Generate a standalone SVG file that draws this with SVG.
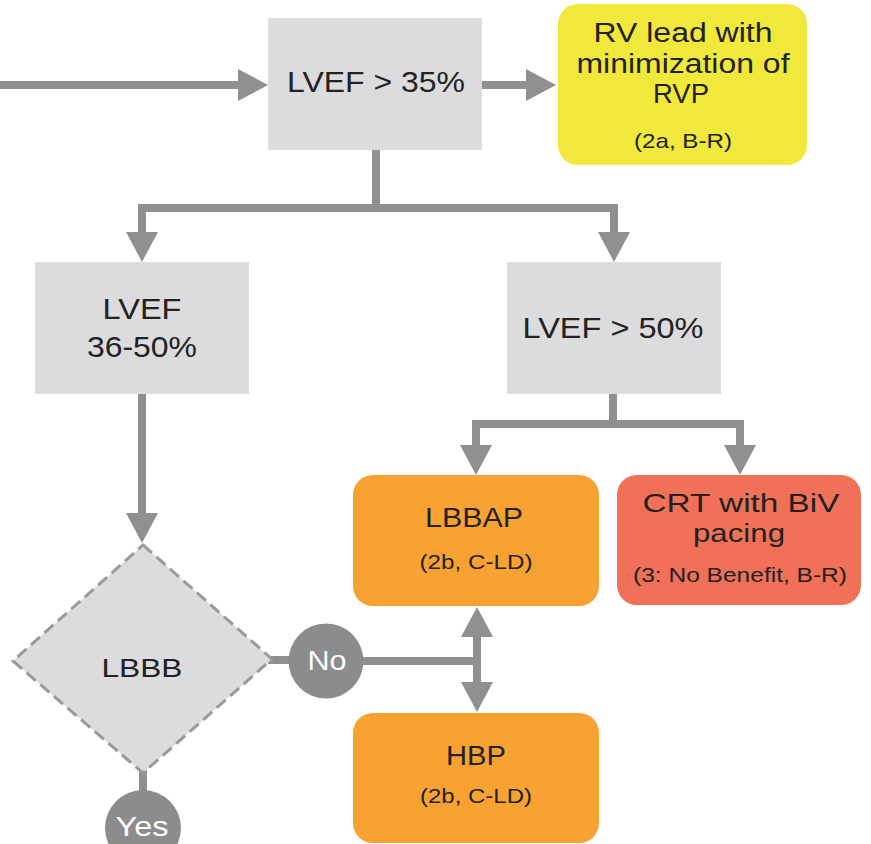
<svg xmlns="http://www.w3.org/2000/svg" width="871" height="844" viewBox="0 0 871 844">
  <style>
    .t { font-family: "Liberation Sans", Arial, sans-serif; fill: #222222; text-anchor: middle; }
    .w { font-family: "Liberation Sans", Arial, sans-serif; fill: #ffffff; text-anchor: middle; }
    .gray { fill: #dcdcde; }
    .orange { fill: #f7a233; }
    .conn { fill: none; stroke: #909093; stroke-width: 8; stroke-linejoin: miter; }
    .badge { fill: #8c8c8f; }
  </style>
  <defs>
    <marker id="arrow" viewBox="0 0 30 32" refX="4" refY="16" markerWidth="30" markerHeight="32" markerUnits="userSpaceOnUse" orient="auto">
      <path d="M0,0 L30,16 L0,32 z" fill="#909093"/>
    </marker>
  </defs>
  <rect width="871" height="844" fill="#ffffff"/>

  <g id="connectors">
    <path class="conn" d="M0,85 H242" marker-end="url(#arrow)"/>
    <path class="conn" d="M482,85 H530" marker-end="url(#arrow)"/>
    <path class="conn" d="M376,150 V208 H142 V236" marker-end="url(#arrow)"/>
    <path class="conn" d="M376,208 H614 V236" marker-end="url(#arrow)"/>
    <path class="conn" d="M142,394 V517" marker-end="url(#arrow)"/>
    <path class="conn" d="M613,394 V424 H476 V449" marker-end="url(#arrow)"/>
    <path class="conn" d="M613,424 H740 V449" marker-end="url(#arrow)"/>
    <path class="conn" d="M268,660 H300"/>
    <path class="conn" d="M350,661 H481"/>
    <path class="conn" d="M477,661 V633" marker-end="url(#arrow)"/>
    <path class="conn" d="M477,661 V686" marker-end="url(#arrow)"/>
    <path class="conn" d="M143,770 V800"/>
  </g>

  <g id="lvef35">
    <rect class="gray" x="268" y="18" width="214" height="132"/>
    <text class="t" x="376" y="92" font-size="30" textLength="178" lengthAdjust="spacingAndGlyphs">LVEF &gt; 35%</text>
  </g>

  <g id="rvlead">
    <rect x="558" y="4" width="249" height="161" rx="20" fill="#f1e83c"/>
    <text class="t" x="683" y="42" font-size="27" textLength="179" lengthAdjust="spacingAndGlyphs">RV lead with</text>
    <text class="t" x="683" y="73" font-size="27" textLength="213" lengthAdjust="spacingAndGlyphs">minimization of</text>
    <text class="t" x="681" y="103" font-size="27" textLength="56" lengthAdjust="spacingAndGlyphs">RVP</text>
    <text class="t" x="683" y="148" font-size="21" textLength="98" lengthAdjust="spacingAndGlyphs">(2a, B-R)</text>
  </g>

  <g id="lvef36">
    <rect class="gray" x="35" y="262" width="214" height="132"/>
    <text class="t" x="142" y="319" font-size="30" textLength="79" lengthAdjust="spacingAndGlyphs">LVEF</text>
    <text class="t" x="142" y="357" font-size="30" textLength="110" lengthAdjust="spacingAndGlyphs">36-50%</text>
  </g>

  <g id="lvef50">
    <rect class="gray" x="507" y="262" width="214" height="132"/>
    <text class="t" x="613" y="338" font-size="30" textLength="181" lengthAdjust="spacingAndGlyphs">LVEF &gt; 50%</text>
  </g>

  <g id="lbbap">
    <rect class="orange" x="353" y="475" width="246" height="131" rx="20"/>
    <text class="t" x="474" y="527" font-size="27" textLength="98" lengthAdjust="spacingAndGlyphs">LBBAP</text>
    <text class="t" x="476" y="569" font-size="21" textLength="113" lengthAdjust="spacingAndGlyphs">(2b, C-LD)</text>
  </g>

  <g id="crt">
    <rect x="617" y="475" width="244" height="130" rx="20" fill="#f07158"/>
    <text class="t" x="741" y="512" font-size="25" textLength="197" lengthAdjust="spacingAndGlyphs">CRT with BiV</text>
    <text class="t" x="739" y="542" font-size="26" textLength="92" lengthAdjust="spacingAndGlyphs">pacing</text>
    <text class="t" x="740" y="582" font-size="21" textLength="214" lengthAdjust="spacingAndGlyphs">(3: No Benefit, B-R)</text>
  </g>

  <g id="lbbb">
    <polygon points="143,545 272,659 143,773 13,661" fill="#dcdcde" stroke="#9a9a9c" stroke-width="3" stroke-dasharray="12 6"/>
    <text class="t" x="142" y="677" font-size="26" textLength="81" lengthAdjust="spacingAndGlyphs">LBBB</text>
  </g>

  <g id="no">
    <circle class="badge" cx="326" cy="661" r="37.5"/>
    <text class="w" x="327" y="670" font-size="28" textLength="39" lengthAdjust="spacingAndGlyphs">No</text>
  </g>

  <g id="hbp">
    <rect class="orange" x="353" y="713" width="246" height="130" rx="20"/>
    <text class="t" x="476" y="765" font-size="27" textLength="60" lengthAdjust="spacingAndGlyphs">HBP</text>
    <text class="t" x="476" y="803" font-size="21" textLength="112" lengthAdjust="spacingAndGlyphs">(2b, C-LD)</text>
  </g>

  <g id="yes">
    <circle class="badge" cx="143" cy="828" r="38"/>
    <text class="w" x="142" y="836" font-size="28" textLength="53" lengthAdjust="spacingAndGlyphs">Yes</text>
  </g>
</svg>
